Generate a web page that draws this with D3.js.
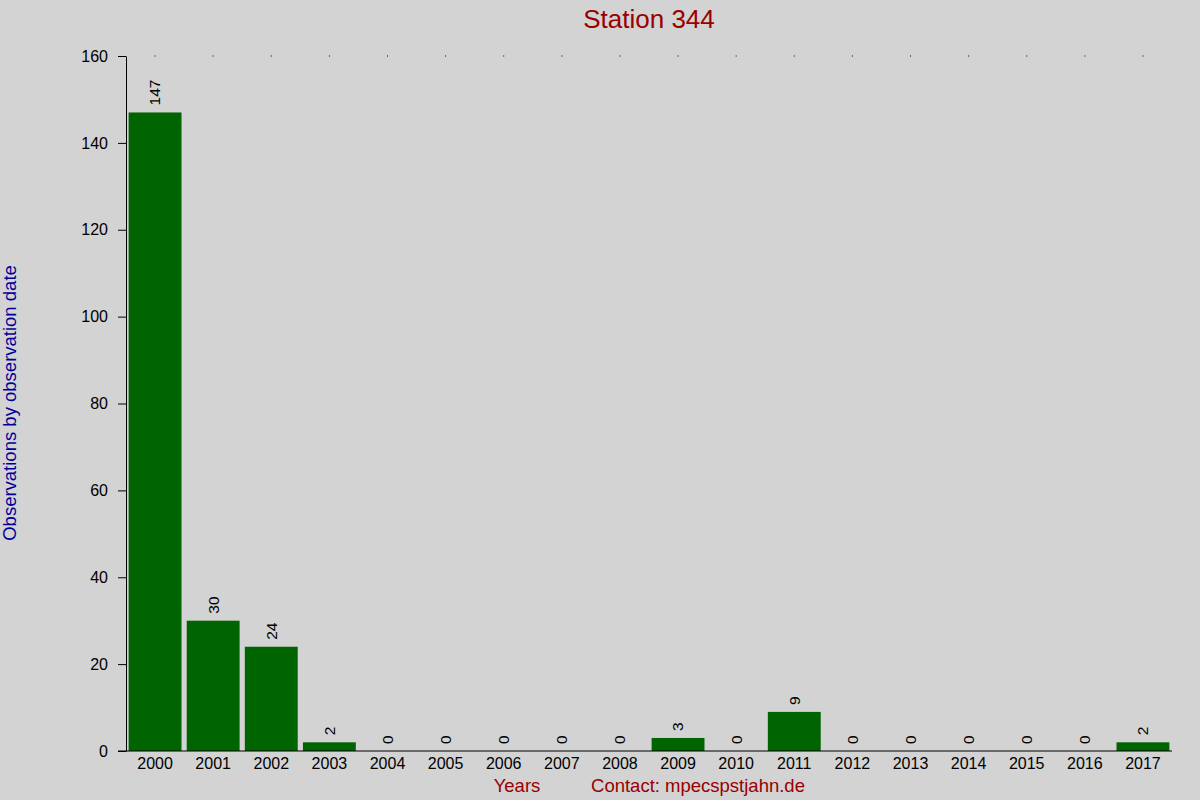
<!DOCTYPE html>
<html>
<head>
<meta charset="utf-8">
<script src="https://cdn.jsdelivr.net/npm/d3@7"></script>
<style>
  body { margin: 0; background: #d3d3d3; }
  svg { display: block; font-family: "Liberation Sans", Arial, sans-serif; }
</style>
</head>
<body>
<svg id="chart" width="1200" height="800"></svg>
<script>
// chart values
const years = ['2000', '2001', '2002', '2003', '2004', '2005', '2006', '2007', '2008',
  '2009', '2010', '2011', '2012', '2013', '2014', '2015', '2016', '2017'];
const observations = [147, 30, 24, 2, 0, 0, 0, 0, 0, 3, 0, 9, 0, 0, 0, 0, 0, 2];
const yTicks = [0, 20, 40, 60, 80, 100, 120, 140, 160];

const svg = d3.select('svg#chart');
const width = 1200;
const height = 800;
const margin = { top: 56, right: 28, bottom: 49, left: 126 };

svg.append('rect').attr('width', width).attr('height', height).attr('fill', '#d3d3d3');

const x = d3.scaleBand()
  .domain(years)
  .range([margin.left, width - margin.right])
  .paddingInner(0.09)
  .paddingOuter(0.045);

const y = d3.scaleLinear()
  .domain([0, 160])
  .range([height - margin.bottom, margin.top]);

// bars
svg.append('g')
  .selectAll('rect')
  .data(observations)
  .enter()
  .append('rect')
  .attr('x', (d, i) => x(years[i]))
  .attr('y', d => y(d))
  .attr('width', x.bandwidth())
  .attr('height', d => y(0) - y(d))
  .attr('fill', '#006400');

// little dots along the top
svg.append('g')
  .selectAll('rect')
  .data(years)
  .enter()
  .append('rect')
  .attr('x', d => x(d) + x.bandwidth() / 2 - 0.5)
  .attr('y', y(160) - 0.5)
  .attr('width', 1)
  .attr('height', 1)
  .attr('fill', '#000');

// value labels, rotated
svg.append('g')
  .selectAll('text')
  .data(observations)
  .enter()
  .append('text')
  .attr('transform', (d, i) =>
    `translate(${x(years[i]) + x.bandwidth() / 2},${y(d) - 7}) rotate(-90)`)
  .attr('dy', '0.35em')
  .attr('text-anchor', 'start')
  .attr('font-size', 15.5)
  .attr('fill', '#000')
  .text(d => d);

// y axis
const yAxis = svg.append('g')
  .attr('transform', `translate(${margin.left},0)`)
  .call(d3.axisLeft(y).tickValues(yTicks).tickSize(8).tickPadding(10).tickSizeOuter(0));
yAxis.select('.domain').attr('stroke', '#000');
yAxis.selectAll('text').attr('font-size', 16).attr('font-family', '"Liberation Sans", Arial, sans-serif').attr('fill', '#000');

// x axis baseline
svg.append('line')
  .attr('x1', margin.left - 8)
  .attr('x2', width - margin.right)
  .attr('y1', y(0))
  .attr('y2', y(0))
  .attr('stroke', '#000');

const xAxis = svg.append('g')
  .attr('transform', `translate(0,${y(0)})`)
  .call(d3.axisBottom(x).tickSize(0).tickPadding(7));
xAxis.select('.domain').remove();
xAxis.selectAll('text').attr('font-size', 16).attr('font-family', '"Liberation Sans", Arial, sans-serif').attr('fill', '#000');

// title
svg.append('text')
  .attr('x', 649)
  .attr('y', 28)
  .attr('text-anchor', 'middle')
  .attr('font-size', 26)
  .attr('fill', '#990000')
  .text('Station 344');

// y label
svg.append('text')
  .attr('transform', 'translate(16,403) rotate(-90)')
  .attr('text-anchor', 'middle')
  .attr('font-size', 18.5)
  .attr('fill', '#000099')
  .text('Observations by observation date');

// bottom labels
svg.append('text')
  .attr('x', 517)
  .attr('y', 792)
  .attr('text-anchor', 'middle')
  .attr('font-size', 18.5)
  .attr('fill', '#990000')
  .text('Years');

svg.append('text')
  .attr('x', 698)
  .attr('y', 792)
  .attr('text-anchor', 'middle')
  .attr('font-size', 18.5)
  .attr('fill', '#990000')
  .text('Contact: mpecspstjahn.de');
</script>
</body>
</html>
